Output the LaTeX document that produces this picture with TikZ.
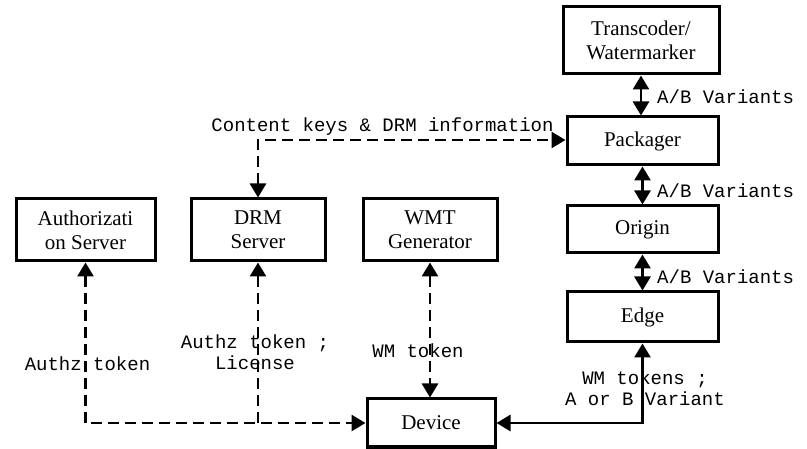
\documentclass[tikz,border=0pt]{standalone}
\usepackage{fontspec}
\setmainfont{Liberation Serif}
\newfontfamily\labfont{Liberation Mono}
\usetikzlibrary{arrows.meta}
\begin{document}
\begin{tikzpicture}[x=1pt,y=-1pt,
  box/.style={draw,line width=3pt,inner sep=0pt,align=center,font=\fontsize{21}{24}\selectfont},
  lab/.style={inner sep=0pt,align=center,font=\labfont\fontsize{19}{21}\selectfont},
  conn/.style={line width=2.8pt,{Triangle[length=14pt,width=16pt]}-{Triangle[length=14pt,width=16pt]}},
  connone/.style={line width=2.8pt,-{Triangle[length=14pt,width=16pt]}},
  dsh/.style={dash pattern=on 11pt off 6pt}]
\useasboundingbox (0,0) rectangle (807,449);
\node[box,minimum width=156pt,minimum height=67pt] (trans) at (641,40.5) {Transcoder/\\Watermarker};
\node[box,minimum width=151pt,minimum height=48pt] (pack) at (642.5,141) {Packager};
\node[box,minimum width=151pt,minimum height=47pt] (origin) at (642.5,229.5) {Origin};
\node[box,minimum width=151pt,minimum height=50pt] (edge) at (642.5,317) {Edge};
\node[box,minimum width=128pt,minimum height=48pt] (device) at (431,423) {Device};
\node[box,minimum width=139pt,minimum height=62pt] (auth) at (85.5,230) {Authorizati\\on Server};
\node[box,minimum width=134pt,minimum height=62pt] (drm) at (258,230) {DRM\\Server};
\node[box,minimum width=134pt,minimum height=62pt] (wmt) at (430,230) {WMT\\Generator};
\coordinate (junc) at (drm.south |- device.west);
% solid chain
\draw[conn] (trans.south) -- (trans.south |- pack.north);
\draw[conn] (pack.south) -- (origin.north);
\draw[conn] (origin.south) -- (edge.north);
\draw[conn] (edge.south) |- (device.east);
% dashed
\draw[conn,dsh] (auth.south) |- (device.west);
\draw[connone,dsh] (junc) -- (drm.south);
\draw[conn,dsh] (wmt.south) -- (wmt.south |- device.north);
\draw[conn,dsh] (drm.north) |- ([yshift=1pt]pack.west);
% labels
\node[lab,anchor=west] (l1) at (657,97) {A/B Variants};
\node[lab,anchor=west] (l2) at (657,191) {A/B Variants};
\node[lab,anchor=west] (l3) at (657,277) {A/B Variants};
\node[lab] (l4) at (382.5,127) {Content keys \& DRM information};
\node[lab] (l5) at (87.5,364) {Authz token};
\node[lab] (l6) at (255,352.5) {Authz token ;\\License};
\node[lab] (l7) at (418,351) {WM token};
\node[lab] (l8) at (645,388.5) {WM tokens ;\\A or B Variant};
\end{tikzpicture}
\end{document}
